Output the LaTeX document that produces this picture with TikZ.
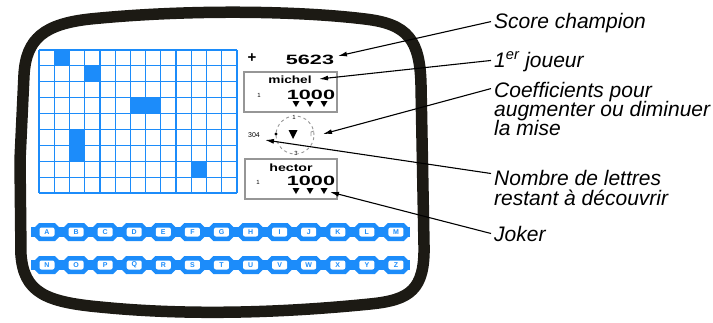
\documentclass[tikz,border=0pt]{standalone}
\usepackage{fontspec}
\setmainfont{Liberation Sans}
\usetikzlibrary{arrows.meta}
\definecolor{tvblue}{RGB}{28,140,250}
\definecolor{framecol}{RGB}{28,26,20}
\definecolor{boxgray}{RGB}{150,150,150}
\newcommand{\widen}[2]{\scalebox{#1}[1]{#2}}
\tikzset{
  tvframe/.style={draw=framecol, line width=11.5pt, line join=round},
  gridline/.style={draw=tvblue, line width=1.2pt},
  cellfill/.style={fill=tvblue},
  lab/.style={font=\fontsize{21}{19}\selectfont\itshape, anchor=base west, inner sep=0pt},
  callout/.style={draw=black, line width=1.1pt, -{Latex[length=9pt,width=5pt]}},
  panelbox/.style={draw=boxgray, line width=1.1pt},
  dispnum/.style={font=\fontsize{13.5}{13.5}\selectfont\bfseries, inner sep=0pt},
  dispname/.style={font=\fontsize{10.5}{10.5}\selectfont\bfseries, inner sep=0pt},
  tiny/.style={font=\fontsize{6}{6}\selectfont, inner sep=0pt},
  keypoint/.style={inner sep=0pt, minimum size=0pt},
  keytext/.style={fill=white, rounded corners=2pt, minimum width=15pt, minimum height=9pt,
     inner sep=0pt, text=tvblue, font=\fontsize{7}{7}\selectfont\bfseries},
  tri/.style={fill=black},
}
\newcommand{\octkey}[1]{%
  \fill[tvblue] ([shift={(-13,-4)}]#1) -- ([shift={(-8,-9)}]#1) -- ([shift={(8,-9)}]#1)
    -- ([shift={(13,-4)}]#1) -- ([shift={(13,4)}]#1) -- ([shift={(8,9)}]#1)
    -- ([shift={(-8,9)}]#1) -- ([shift={(-13,4)}]#1) -- cycle;}
\begin{document}
\begin{tikzpicture}[x=1pt, y=-1pt]
\useasboundingbox (0,0) rectangle (713,322);

% TV frame
\draw[tvframe] (20,160) -- (24,75) .. controls (26,38) and (45,24) .. (90,19)
  .. controls (190,9) and (300,11) .. (365,19)
  .. controls (408,24) and (420,40) .. (421,85) -- (424,245)
  .. controls (425,290) and (410,300) .. (370,304)
  .. controls (300,311) and (200,317) .. (100,307)
  .. controls (45,302) and (24,292) .. (21,255) -- cycle;

% grid: 13 columns x 9 rows
\def\cw{15.2308}
\def\ch{15.889}
\foreach \c/\r in {1/0,3/1,6/3,7/3,2/5,2/6,10/7}
  \fill[cellfill] ({39+\c*\cw},{50+\r*\ch}) rectangle ++(\cw,\ch);
\foreach \i in {0,...,13}
  \draw[gridline] ({39+\i*\cw},50) -- ({39+\i*\cw},193);
\foreach \j in {0,...,9}
  \draw[gridline] (39,{50+\j*\ch}) -- (237,{50+\j*\ch});

% score panel
\node[font=\fontsize{15}{15}\selectfont\bfseries, inner sep=0pt] (plus) at (252,58) {+};
\node[dispnum] (champ) at (310,60) {\widen{1.6}{5623}};

\draw[panelbox] (244,72) rectangle (337,112);
\node[dispname] (michel) at (290,79.5) {\widen{1.3}{michel}};
\node[tiny] (m1) at (259,95) {1};
\node[dispnum] (m1000) at (311,94.5) {\widen{1.6}{1000}};
\foreach \x in {296,310,324}
  \fill[tri] (\x-3.5,101) -- (\x+3.5,101) -- (\x,107) -- cycle;

\node[draw=boxgray, dashed, line width=0.9pt, circle, minimum size=38pt, inner sep=0pt] (dial) at (295,135) {};
\node[tiny, fill=white, inner sep=0.5pt] (d1) at (294,117) {1};
\node[tiny, fill=white, inner sep=0.5pt] (d3) at (296,153) {3};
\fill (276,134) circle (1.6);
\fill[tri] (288.5,130) -- (297.5,130) -- (293,139) -- cycle;
\draw[boxgray, line width=0.9pt] (311,136) -- (311,132) -- (314,131);
\node[font=\fontsize{7}{7}\selectfont, inner sep=0pt] (n304) at (254,135) {304};

\draw[panelbox] (245,159) rectangle (337,199);
\node[dispname] (hector) at (291,168) {\widen{1.35}{hector}};
\node[tiny] (h1) at (258,182) {1};
\node[dispnum] (h1000) at (311,181) {\widen{1.6}{1000}};
\foreach \x in {296,310,324}
  \fill[tri] (\x-3.5,188) -- (\x+3.5,188) -- (\x,194) -- cycle;

% letter keys
\fill[tvblue] (31,227) rectangle (410,237);
\fill[tvblue] (31,260) rectangle (410,270);
\foreach \L [count=\i from 0] in {A,B,C,D,E,F,G,H,I,J,K,L,M}{
  \coordinate (k\L) at ({47+\i*29.08},232);
  \octkey{k\L}
  \node[keytext] (l\L) at (k\L) {\L};
}
\foreach \L [count=\i from 0] in {N,O,P,Q,R,S,T,U,V,W,X,Y,Z}{
  \coordinate (k\L) at ({47+\i*29.08},265);
  \octkey{k\L}
  \node[keytext] (l\L) at (k\L) {\L};
}

% labels
\node[lab] (score) at (494,28) {Score champion};
\node[lab] (joueur) at (494,67) {1\textsuperscript{er} joueur};
\node[lab] (coef1) at (494,97) {Coefficients pour};
\node[lab] (coef2) at (494,116) {augmenter ou diminuer};
\node[lab] (coef3) at (494,135) {la mise};
\node[lab] (nombre1) at (494,185) {Nombre de lettres};
\node[lab] (nombre2) at (494,205) {restant à découvrir};
\node[lab] (joker) at (494,241) {Joker};

% arrow targets
\coordinate (tScore) at (338,56);
\coordinate (tJoueur) at (319,79);
\coordinate (tCoef) at (323,134);
\coordinate (tNombre) at (265,140);
\coordinate (tJoker) at (330,192);

\draw[callout] ([shift={(-3,-1)}]score.west) -- (tScore);
\draw[callout] ([shift={(-3,-1)}]joueur.west) -- (tJoueur);
\draw[callout] ([shift={(-3,-3)}]coef1.west) -- (tCoef);
\draw[callout] ([shift={(-3,-4)}]nombre1.west) -- (tNombre);
\draw[callout] ([shift={(-3,0)}]joker.west) -- (tJoker);
\end{tikzpicture}
\end{document}
